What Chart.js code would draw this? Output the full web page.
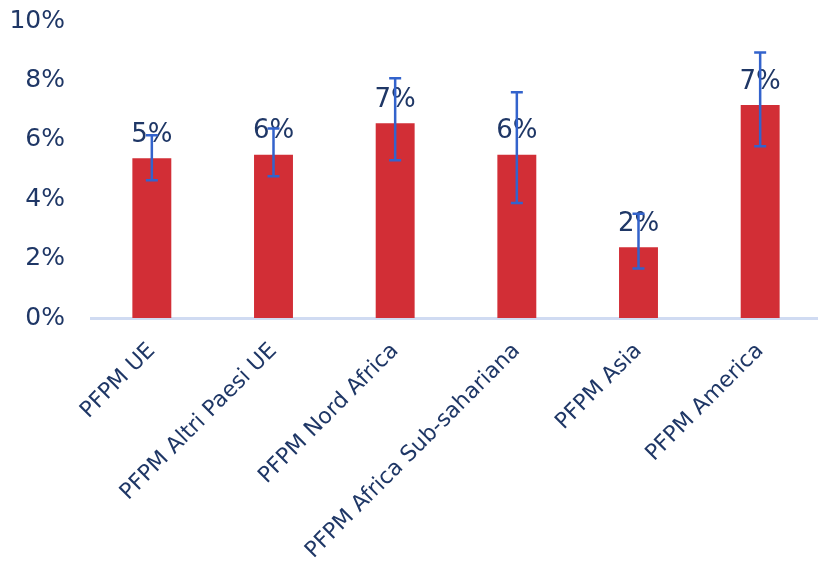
<!DOCTYPE html>
<html>
<head>
<meta charset="utf-8">
<script src="https://cdn.jsdelivr.net/npm/chart.js@4/dist/chart.umd.min.js"></script>
<style>
html,body{margin:0;padding:0;background:#fff;overflow:hidden;}
#wrap{width:821px;height:563px;position:relative;}
</style>
</head>
<body>
<div id="wrap"><canvas id="c"></canvas></div>
<script>
const categories = ["PFPM UE","PFPM Altri Paesi UE","PFPM Nord Africa","PFPM Africa Sub-sahariana","PFPM Asia","PFPM America"];
const values = [5.38, 5.5, 6.56, 5.5, 2.38, 7.17];
const errHigh = [6.15, 6.38, 8.07, 7.60, 3.51, 8.94];
const errLow = [4.64, 4.77, 5.31, 3.87, 1.67, 5.78];
const yTicks = [0, 2, 4, 6, 8, 10];

const navy = '#1F3766';
const FONT = '"DejaVu Sans", Verdana, sans-serif';

const labelsAndErrors = {
  id: 'labelsAndErrors',
  afterDatasetsDraw(chart) {
    const ctx = chart.ctx;
    const meta = chart.getDatasetMeta(0);
    const y = chart.scales.y;
    ctx.save();
    // data labels
    ctx.font = '26px ' + FONT;
    ctx.fillStyle = navy;
    ctx.textAlign = 'center';
    ctx.textBaseline = 'middle';
    meta.data.forEach((bar, i) => {
      ctx.fillText(Math.round(values[i]) + '%', bar.x, bar.y - 23);
    });
    // error bars
    ctx.strokeStyle = '#3363CC';
    ctx.lineWidth = 2.5;
    meta.data.forEach((bar, i) => {
      const yh = y.getPixelForValue(errHigh[i]);
      const yl = y.getPixelForValue(errLow[i]);
      ctx.beginPath();
      ctx.moveTo(bar.x, yh); ctx.lineTo(bar.x, yl);
      ctx.moveTo(bar.x - 6, yh); ctx.lineTo(bar.x + 6, yh);
      ctx.moveTo(bar.x - 6, yl); ctx.lineTo(bar.x + 6, yl);
      ctx.stroke();
    });
    ctx.restore();
  }
};

new Chart(document.getElementById('c'), {
  type: 'bar',
  data: {
    labels: categories,
    datasets: [{
      data: values,
      backgroundColor: '#D22E36',
      categoryPercentage: 1,
      barPercentage: 0.32
    }]
  },
  options: {
    responsive: true,
    maintainAspectRatio: false,
    animation: false,
    devicePixelRatio: 1,
    layout: { padding: { top: 21, right: 0, left: 0, bottom: 0 } },
    plugins: { legend: { display: false }, tooltip: { enabled: false } },
    scales: {
      x: {
        grid: { display: false, drawTicks: false },
        border: { display: true, color: '#D0DBF2', width: 3 },
        ticks: {
          color: navy,
          font: { family: FONT, size: 22 },
          minRotation: 45,
          maxRotation: 45,
          padding: 20,
          autoSkip: false
        },
        afterFit(scale) { scale.height = 245; scale.paddingRight = 0; }
      },
      y: {
        min: 0,
        max: 10,
        afterBuildTicks(scale) { scale.ticks = yTicks.map(v => ({ value: v })); },
        grid: { display: false, drawTicks: false },
        border: { display: false },
        ticks: {
          color: navy,
          font: { family: FONT, size: 25 },
          padding: 26,
          callback: v => v + '%'
        },
        afterFit(scale) {
          scale.width = 91;
          scale.paddingTop = 0;
          scale.paddingBottom = 0;
        }
      }
    }
  },
  plugins: [labelsAndErrors]
});
</script>
</body>
</html>
